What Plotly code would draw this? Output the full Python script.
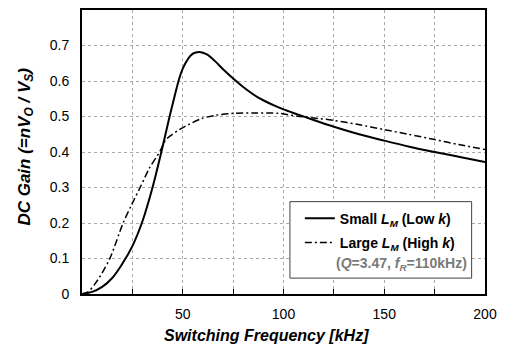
import plotly.graph_objects as go

# Switching frequency [kHz] and DC gain values
f_small = [0, 5, 10, 15, 20, 25, 30, 35, 40, 45, 50, 55, 58.4, 62, 66, 70, 75, 80, 87.5,
           95, 100, 107, 115, 125, 137.5, 150, 162.5, 175, 187.5, 200]
gain_small = [0, 0.006, 0.02, 0.045, 0.085, 0.135, 0.205, 0.3, 0.415, 0.535, 0.635,
              0.677, 0.682, 0.675, 0.656, 0.633, 0.607, 0.583, 0.553, 0.532, 0.52,
              0.506, 0.49, 0.471, 0.45, 0.432, 0.415, 0.4, 0.386, 0.372]

f_large = [0, 3, 6, 9, 13.9, 20.4, 24.5, 29, 33.5, 38.5, 41.7, 48.3, 52.8, 59.7, 67, 75,
           86, 97.4, 107, 115, 125, 136.5, 150, 162, 175, 187, 200]
gain_large = [0, 0.006, 0.025, 0.05, 0.101, 0.2, 0.25, 0.302, 0.355, 0.4, 0.435, 0.463,
              0.477, 0.495, 0.504, 0.509, 0.51, 0.509, 0.501, 0.496, 0.489, 0.478, 0.463,
              0.45, 0.435, 0.421, 0.407]

x_tickvals = [0, 25, 50, 75, 100, 125, 150, 175, 200]
x_ticktext = ["", "", "50", "", "100", "", "150", "", "200"]
y_tickvals = [0, 0.1, 0.2, 0.3, 0.4, 0.5, 0.6, 0.7]
y_ticktext = ["0", "0.1", "0.2", "0.3", "0.4", "0.5", "0.6", "0.7"]

FONT = "Liberation Sans, Arial, sans-serif"

fig = go.Figure()
fig.add_trace(go.Scatter(
    x=f_small, y=gain_small, mode="lines", line_shape="spline",
    line=dict(color="black", width=2, smoothing=1),
    name="<b>Small <i>L<sub>M</sub></i> (Low <i>k</i>)</b>",
    legendgroup="a"))
fig.add_trace(go.Scatter(
    x=f_large, y=gain_large, mode="lines", line_shape="spline",
    line=dict(color="black", width=1.5, dash="7px,3px,2px,3px", smoothing=0.8),
    name="<b>Large <i>L<sub>M</sub></i> (High <i>k</i>)</b>",
    legendgroup="b"))

W, H = 505, 356
L, R, T, B = 82, 16, 8, 62
pw, ph = W - L - R, H - T - B

def px_x(x):
    return (x - L) / pw

def px_y(y):
    return (H - B - y) / ph

fig.update_layout(
    width=W, height=H,
    margin=dict(l=L, r=R, t=T, b=B),
    paper_bgcolor="white", plot_bgcolor="white",
    font=dict(family=FONT, size=14, color="black"),
    showlegend=True,
    legend=dict(x=px_x(302), y=px_y(202), xanchor="left", yanchor="top",
                bgcolor="rgba(0,0,0,0)", borderwidth=0,
                font=dict(family=FONT, size=14, color="black"),
                tracegroupgap=3, traceorder="grouped"),
    xaxis=dict(range=[0, 200], tickvals=x_tickvals, ticktext=x_ticktext,
               showgrid=True, gridcolor="#a8a8a8", griddash="dot", gridwidth=1,
               showline=True, linecolor="black", linewidth=2, mirror=True,
               ticks="inside", ticklen=5, tickcolor="black", tickwidth=1,
               ticklabelstandoff=6, zeroline=False,
               tickfont=dict(family=FONT, size=14)),
    yaxis=dict(range=[0, 0.8], tickvals=y_tickvals, ticktext=y_ticktext,
               showgrid=True, gridcolor="#a8a8a8", griddash="dot", gridwidth=1,
               showline=True, linecolor="black", linewidth=2, mirror=True,
               ticks="", ticklabelstandoff=8, zeroline=False,
               tickfont=dict(family=FONT, size=14)),
    shapes=[dict(type="rect", xref="paper", yref="paper",
                 x0=px_x(292), x1=px_x(475.5), y0=px_y(278), y1=px_y(201),
                 line=dict(color="#404040", width=1), fillcolor="white",
                 layer="above")],
    annotations=[
        dict(text="<b>(<i>Q</i>=3.47, <i>f<sub>R</sub></i>=110kHz)</b>",
             xref="paper", yref="paper", x=px_x(473), y=px_y(264),
             xanchor="right", yanchor="middle", showarrow=False,
             font=dict(family=FONT, size=14, color="#7a7a7a")),
        dict(text="<b><i>Switching Frequency [kHz]</i></b>",
             xref="paper", yref="paper", x=px_x(268), y=px_y(336),
             xanchor="center", yanchor="middle", showarrow=False,
             font=dict(family=FONT, size=16, color="black")),
        dict(text="<b><i>DC Gain (=nV<sub>O</sub> / V<sub>S</sub>)</i></b>",
             xref="paper", yref="paper", x=px_x(25), y=px_y(146),
             xanchor="center", yanchor="middle", showarrow=False, textangle=-90,
             font=dict(family=FONT, size=17, color="black")),
    ],
)

fig.write_html("out.html")
